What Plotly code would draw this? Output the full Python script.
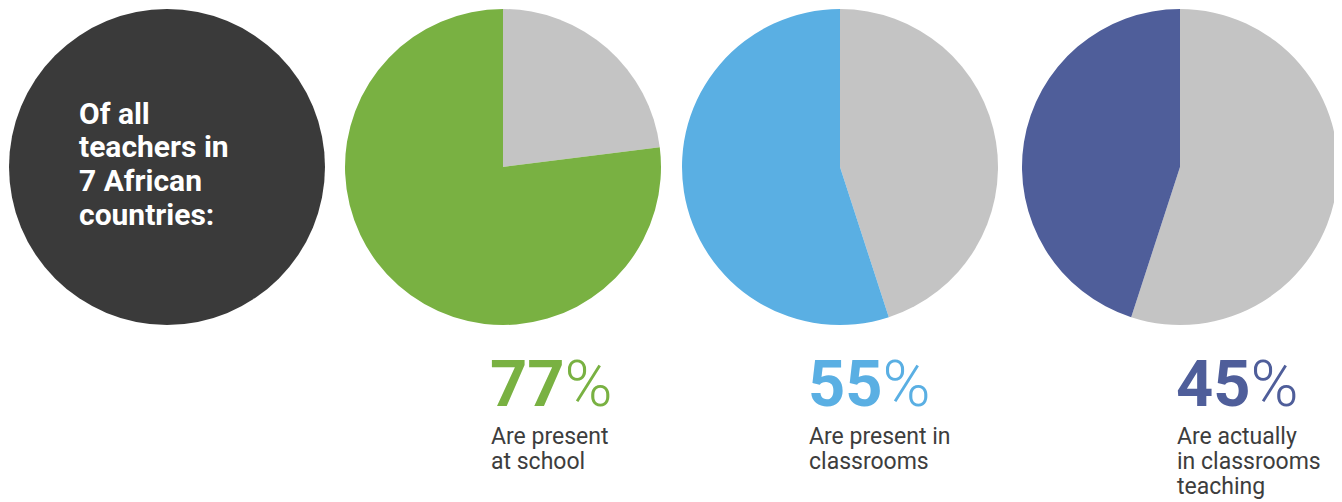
import plotly.graph_objects as go

# The page body adds an 8px margin, so the figure is drawn 8px in from the top-left.
OFF = 8
W, H = 1342 - OFF, 502 - OFF

intro_text = ["Of all", "teachers in", "7 African", "countries:"]
shares = [77, 55, 45]
labels = [["Are present", "at school"],
          ["Are present in", "classrooms"],
          ["Are actually", "in classrooms", "teaching"]]
colors = ["#79b142", "#5aafe3", "#4f5e9a"]
rest_color = "#c4c4c4"
dark = "#3a3a3a"
label_color = "#3d3d3d"

# page-pixel boxes for each circle (left, right); top/bottom shared
circle_x = [(9, 325), (345, 661), (682, 998), (1022, 1338)]
top, bottom = 9, 325
num_x = [490, 808, 1176]


def px(x):
    return (x - OFF) / W


def py(y):
    return 1 - (y - OFF) / H


fig = go.Figure()
ydom = [py(bottom), py(top)]

fig.add_trace(go.Pie(values=[1], labels=["all"], marker=dict(colors=[dark], line=dict(width=0)),
                     textinfo="none", hoverinfo="skip", sort=False,
                     domain=dict(x=[px(circle_x[0][0]), px(circle_x[0][1])], y=ydom),
                     showlegend=False))

for i, v in enumerate(shares):
    l, r = circle_x[i + 1]
    fig.add_trace(go.Pie(values=[100 - v, v], labels=["no", "yes"],
                         marker=dict(colors=[rest_color, colors[i]], line=dict(width=0)),
                         textinfo="none", sort=False, direction="counterclockwise",
                         rotation=0, hoverinfo="skip",
                         domain=dict(x=[px(l), px(r)], y=ydom), showlegend=False))

annotations = []


def add_line(text, x, baseline, size, color, weight=400):
    annotations.append(dict(text=text, x=px(x), y=py(baseline - 0.35 * size),
                            xref="paper", yref="paper", xanchor="left", yanchor="middle",
                            align="left", showarrow=False, borderpad=0,
                            font=dict(family="Roboto", size=size, color=color, weight=weight)))


for j, t in enumerate(intro_text):
    add_line(t, 78, 124 + 33.5 * j, 30, "white", 700)

for i, v in enumerate(shares):
    add_line(f"<b>{v}</b>%", num_x[i] - 1, 407, 65, colors[i], 300)
    for j, t in enumerate(labels[i]):
        add_line(t, num_x[i], 445 + 25 * j, 23, label_color, 400)

fig.update_layout(width=W, height=H, margin=dict(l=0, r=0, t=0, b=0),
                  paper_bgcolor="white", plot_bgcolor="white",
                  annotations=annotations)

fig.write_html("out.html")
